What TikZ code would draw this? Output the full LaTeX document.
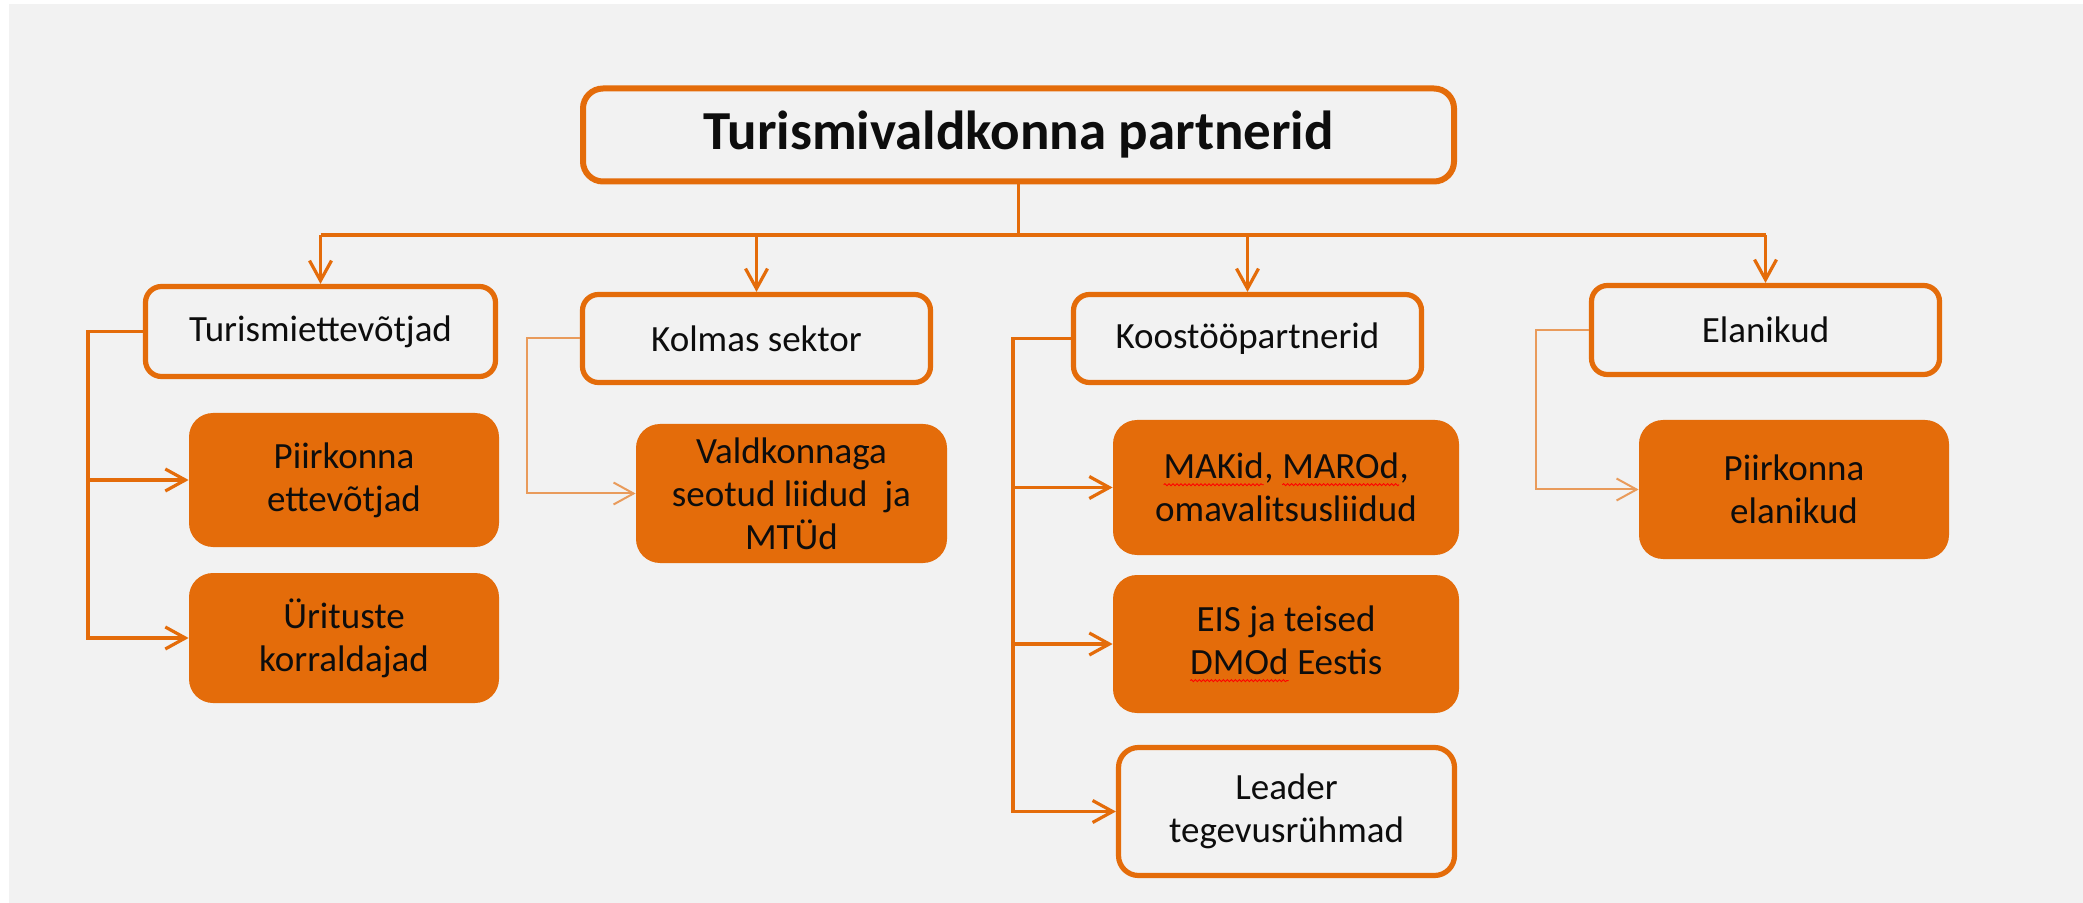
\documentclass[tikz,border=0pt]{standalone}
\usepackage{fontspec}
\setmainfont{Carlito}
\usetikzlibrary{arrows.meta,decorations.pathmorphing}
\definecolor{org}{HTML}{E46C0A}
\definecolor{bg}{HTML}{F2F2F2}
\colorlet{orglight}{org!65!bg}
\definecolor{txt}{HTML}{0D0D0D}
\newcommand\spellmark[1]{\tikz[x=1pt,y=1pt,baseline=(sw.base)]{\node[inner sep=0pt,outer sep=0pt,draw=none,fill=none,minimum width=0pt,minimum height=0pt,sharp corners,text=txt] (sw) {#1};\draw[sharp corners,red,line width=0.45pt,decorate,decoration={snake,amplitude=0.5pt,segment length=2pt}] ([yshift=-3pt]sw.base west) -- ([yshift=-3pt]sw.base east);}}
\begin{document}
\begin{tikzpicture}[x=0.5pt,y=-0.5pt,
  outbox/.style={draw=org,line width=2.6pt,rounded corners=8pt,fill=bg,text=txt,align=center,inner sep=0pt,font=\fontsize{18.5}{21.5}\selectfont},
  fillbox/.style={fill=org,rounded corners=12pt,text=txt,align=center,inner sep=0pt,font=\fontsize{18.5}{21.5}\selectfont},
  conn/.style={draw=org,line width=1.6pt},
  thinconn/.style={draw=orglight,line width=1pt},
  tip/.style={-{Straight Barb[length=10pt,width=11pt]}}
]
\fill[white] (0,0) rectangle (2083,903);
\fill[bg] (9,4) rectangle (2083,903);
\useasboundingbox (0,0) rectangle (2083,903);

\node[outbox,line width=3pt,rounded corners=10pt,minimum width=435.5pt,minimum height=46.5pt,font=\fontsize{27.5}{33}\selectfont\bfseries] (top) at (1018.5,135) {Turismivaldkonna partnerid};

\node[outbox,minimum width=175pt,minimum height=45pt] (T) at (320.5,331.5) {Turismiettevõtjad};
\node[outbox,minimum width=174pt,minimum height=44pt] (K) at (756.5,338.5) {Kolmas sektor};
\node[outbox,minimum width=174pt,minimum height=44pt] (Koo) at (1247.5,338.5) {Koostööpartnerid};
\node[outbox,minimum width=174pt,minimum height=44.5pt] (E) at (1765.5,330) {Elanikud};

\node[fillbox,minimum width=155pt,minimum height=67pt] (P1) at (344,480) {Piirkonna\\ettevõtjad};
\node[fillbox,minimum width=155pt,minimum height=65pt] (U) at (344,638) {Ürituste\\korraldajad};
\node[fillbox,minimum width=155.5pt,minimum height=69.5pt] (V) at (791.5,493.5) {\raisebox{0pt}[\height][0pt]{}Valdkonnaga\\seotud liidud~~ja\\MTÜd};
\node[fillbox,minimum width=173pt,minimum height=67.5pt] (M) at (1286,487.5) {\spellmark{MAKid}, \spellmark{MAROd},\\omavalitsusliidud};
\node[fillbox,minimum width=173pt,minimum height=69pt] (EIS) at (1286,644) {EIS ja teised\\\spellmark{DMOd} Eestis};
\node[outbox,rounded corners=10pt,minimum width=168pt,minimum height=64pt] (L) at (1286.5,811.5) {Leader\\tegevusrühmad};
\node[fillbox,minimum width=155pt,minimum height=69.5pt] (PE) at (1794,489.5) {Piirkonna\\elanikud};

\coordinate (bus) at (1018.5,235);
\draw[conn] (top.south) -- (bus);
\draw[conn] (T.north|-bus) -- (E.north|-bus);
\foreach \n in {T,K,Koo,E} \draw[conn,tip] (\n.north|-bus) -- (\n.north);

\coordinate (tl) at (88,0);
\coordinate (tk) at (527,0);
\coordinate (tko) at (1013,0);
\coordinate (te) at (1536,0);

\draw[conn,tip] (T.west) -- (T.west -| tl) |- (U.west);
\draw[conn,tip] (P1.west -| tl) -- (P1.west);

\draw[thinconn,tip] (K.west) -- (K.west -| tk) |- (V.west);

\draw[conn,tip] (Koo.west) -- (Koo.west -| tko) |- (L.west);
\draw[conn,tip] (M.west -| tko) -- (M.west);
\draw[conn,tip] (EIS.west -| tko) -- (EIS.west);

\draw[thinconn,tip] (E.west) -- (E.west -| te) |- (PE.west);
\end{tikzpicture}
\end{document}
